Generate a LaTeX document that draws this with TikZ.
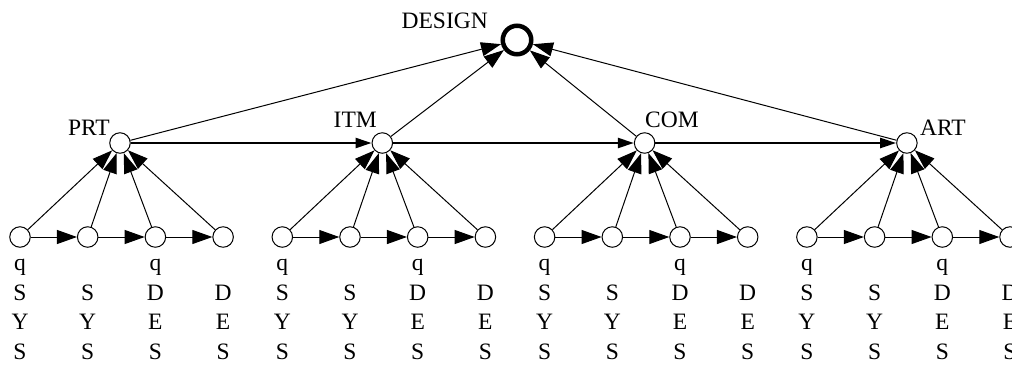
\documentclass[tikz,border=0pt]{standalone}
\usepackage{fontspec}
\setmainfont{Liberation Serif}
\usetikzlibrary{arrows.meta}
\begin{document}
\begin{tikzpicture}[x=1pt,y=-1pt,
  state/.style={circle,draw,line width=1pt,minimum size=20.5pt,inner sep=0pt},
  goal/.style={circle,draw,line width=4.5pt,minimum size=28.5pt,inner sep=0pt},
  lbl/.style={font=\fontsize{23.5}{28}\selectfont,inner sep=0pt},
  flow/.style={line width=1pt,-{Triangle[length=20pt,width=14pt]}},
  seq/.style={line width=2.4pt,-{Triangle[length=16pt,width=10pt]}},
]
\useasboundingbox (0,0) rectangle (1012,365);
\clip (0,0) rectangle (1012,365);

% top goal
\node[goal] (design) at (517,40) {};
\node[lbl,anchor=base east] (designlbl) at (488,28) {DESIGN};

% intermediate states
\node[state] (m1) at (120,143) {};
\node[state] (m2) at (382.3,143) {};
\node[state] (m3) at (644.6,143) {};
\node[state] (m4) at (906.9,143) {};
\node[lbl,anchor=base east] (m1lbl) at (110,135) {PRT};
\node[lbl,anchor=base east] (m2lbl) at (377,127) {ITM};
\node[lbl,anchor=base west] (m3lbl) at (645,127) {COM};
\node[lbl,anchor=base west] (m4lbl) at (920,135) {ART};

% bottom chains with their letter columns
\foreach \k in {1,...,4}{
  \pgfmathsetmacro\gx{20+262.3*(\k-1)}
  \foreach \i in {1,...,4}{
    \node[state] (b\k\i) at ({\gx+67.7*(\i-1)},237) {};
  }
  \foreach \i/\r/\c in {1/1/q,1/2/S,1/3/Y,1/4/S,2/2/S,2/3/Y,2/4/S,
                        3/1/q,3/2/D,3/3/E,3/4/S,4/2/D,4/3/E,4/4/S}{
    \node[lbl,anchor=base] (t\k\i\r) at ({\gx+67.7*(\i-1)},{241+29.5*\r}) {\c};
  }
  \draw[flow] (b\k1) -- (b\k2);
  \draw[flow] (b\k2) -- (b\k3);
  \draw[flow] (b\k3) -- (b\k4);
  \foreach \i in {1,...,4}{
    \draw[flow] (b\k\i) -- (m\k);
  }
  \draw[flow] (m\k) -- (design);
}

% sequence between intermediate states
\draw[seq] (m1) -- (m2);
\draw[seq] (m2) -- (m3);
\draw[seq] (m3) -- (m4);
\end{tikzpicture}
\end{document}
